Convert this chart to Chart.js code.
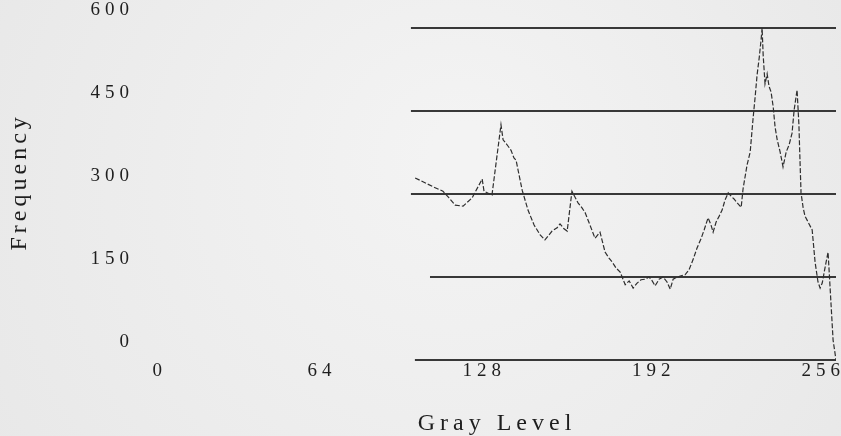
<!DOCTYPE html>
<html>
<head>
<meta charset="utf-8">
<script src="https://cdn.jsdelivr.net/npm/chart.js@4.4.0/dist/chart.umd.min.js"></script>
<style>
  html, body { margin: 0; padding: 0; background: #ededed; }
  canvas { display: block; }
</style>
</head>
<body>
<canvas id="hist" width="841" height="436"></canvas>
<script>
// Gray-level histogram: frequency of each gray level (0-255)
const grayLevels = [
  97.1, 103.9, 107.6, 109.9, 112.2, 115.2, 118.6, 122.4, 123.1, 126.1,
  129.5, 130.3, 131.8, 133.3, 134.4, 135.2, 137.5, 139.7, 142.0, 144.3,
  146.1, 148.8, 150.7, 151.8, 153.3, 154.5, 156.3, 158.6, 160.1, 161.3,
  163.1, 165.0, 166.9, 168.8, 170.3, 171.5, 173.0, 174.5, 176.4, 177.9,
  179.4, 180.9, 182.4, 183.9, 185.4, 186.6, 187.7, 189.2, 190.7, 192.2,
  193.4, 194.5, 196.0, 197.5, 199.0, 200.5, 202.0, 203.5, 205.1, 206.2,
  207.7, 208.8, 209.6, 210.7, 211.9, 213.0, 214.1, 215.3, 216.4, 217.5,
  218.7, 220.2, 220.9, 222.4, 223.6, 224.7, 225.5, 226.2, 227.0, 227.7,
  228.1, 228.5, 229.2, 230.0, 230.7, 231.5, 232.3, 233.0, 233.8, 234.9,
  236.0, 237.2, 238.3, 239.4, 240.2, 241.3, 242.0, 242.4, 242.8, 243.6,
  244.3, 245.5, 247.0, 248.1, 249.2, 250.0, 250.8, 251.9, 253.0, 254.9,
  256
];
const frequency = [
  329, 313, 305, 293, 280, 278, 293, 327, 305, 298,
  425, 398, 389, 379, 365, 361, 307, 271, 244, 226,
  217, 233, 239, 246, 237, 233, 305, 284, 275, 266,
  244, 220, 231, 195, 184, 177, 166, 159, 136, 143,
  130, 139, 145, 146, 150, 143, 134, 146, 150, 141,
  128, 146, 150, 152, 154, 163, 181, 202, 220, 235,
  257, 244, 231, 249, 260, 271, 289, 302, 296, 291,
  284, 276, 309, 352, 376, 437, 477, 515, 546, 578,
  600, 551, 499, 517, 495, 484, 457, 421, 398, 376,
  349, 376, 389, 410, 452, 488, 425, 361, 302, 275,
  260, 249, 235, 177, 141, 130, 139, 168, 195, 36,
  0
];

const xTickValues = [0, 64, 128, 192, 256];
const xTickLabels = ['0', '64', '128', '192', '256'];
const yTickValues = [0, 150, 300, 450, 600];
const yTickLabels = ['0', '150', '300', '450', '600'];
const xTitle = 'Gray Level';
const yTitle = 'Frequency';

const SERIF = "'Liberation Serif', 'DejaVu Serif', serif";
const INK = '#1e1e1e';

// Paper background, plus wide letter spacing for all printed text
const paperPlugin = {
  id: 'paper',
  beforeDraw(chart) {
    const { ctx, width, height } = chart;
    ctx.save();
    const g = ctx.createRadialGradient(width * 0.55, height * 0.35, 30, width * 0.5, height * 0.5, width * 0.7);
    g.addColorStop(0, '#f3f3f3');
    g.addColorStop(1, '#e6e6e6');
    ctx.fillStyle = g;
    ctx.fillRect(0, 0, width, height);
    ctx.restore();
    ctx.letterSpacing = '5px';
  },
  afterDraw(chart) {
    chart.ctx.letterSpacing = '0px';
  }
};

// Horizontal rules at each frequency tick; only their right-hand part is printed
const rulesPlugin = {
  id: 'rules',
  beforeDatasetsDraw(chart, args, opts) {
    const { ctx, chartArea, scales: { x, y } } = chart;
    ctx.save();
    ctx.strokeStyle = opts.color;
    ctx.lineWidth = opts.width;
    yTickValues.forEach((v, i) => {
      const py = Math.round(y.getPixelForValue(v));
      ctx.beginPath();
      ctx.moveTo(x.getPixelForValue(opts.from[i]), py);
      ctx.lineTo(chartArea.right, py);
      ctx.stroke();
    });
    ctx.restore();
  }
};

// Vertical axis title, set a little above the middle of the frequency axis
const yTitlePlugin = {
  id: 'yTitle',
  afterDraw(chart, args, opts) {
    const { ctx, scales: { y } } = chart;
    ctx.save();
    ctx.letterSpacing = '4px';
    ctx.font = `24px ${SERIF}`;
    ctx.fillStyle = INK;
    ctx.textAlign = 'center';
    ctx.textBaseline = 'middle';
    ctx.translate(opts.x, y.getPixelForValue(opts.at));
    ctx.rotate(-Math.PI / 2);
    ctx.fillText(yTitle, 0, 0);
    ctx.restore();
  }
};

new Chart(document.getElementById('hist'), {
  type: 'line',
  data: {
    datasets: [{
      data: grayLevels.map((g, i) => ({ x: g, y: frequency[i] })),
      borderColor: '#2e2e2e',
      borderWidth: 1.2,
      borderDash: [5, 2],
      pointRadius: 0,
      tension: 0,
      fill: false
    }]
  },
  options: {
    responsive: false,
    devicePixelRatio: 1,
    animation: false,
    layout: { padding: { top: 28, right: 5, bottom: 0, left: 0 } },
    plugins: {
      legend: { display: false },
      tooltip: { enabled: false },
      rules: { color: '#383838', width: 2, from: [97, 102.7, 95.5, 95.5, 95.5] },
      yTitle: { x: 20, at: 322 }
    },
    scales: {
      x: {
        type: 'linear',
        min: 0,
        max: 256,
        afterBuildTicks: s => { s.ticks = xTickValues.map(v => ({ value: v })); },
        afterFit: s => { s.height = 76; s.paddingLeft = 0; s.paddingRight = 0; },
        grid: { display: false, drawTicks: false },
        border: { display: false },
        ticks: {
          autoSkip: false,
          maxRotation: 0,
          align: 'end',
          labelOffset: 9,
          padding: 0,
          color: INK,
          font: { family: SERIF, size: 19 },
          callback: (v, i) => xTickLabels[i]
        },
        title: {
          display: true,
          text: xTitle,
          color: INK,
          font: { family: SERIF, size: 24, lineHeight: 1 },
          padding: { top: 0, bottom: 0 }
        }
      },
      y: {
        min: 0,
        max: 600,
        afterBuildTicks: s => { s.ticks = yTickValues.map(v => ({ value: v })); },
        afterFit: s => { s.width = 158; s.paddingTop = 0; s.paddingBottom = 0; },
        grid: { display: false, drawTicks: false },
        border: { display: false },
        ticks: {
          padding: 24,
          labelOffset: -18,
          color: INK,
          font: { family: SERIF, size: 19 },
          callback: (v, i) => yTickLabels[i]
        },
        title: { display: false }
      }
    }
  },
  plugins: [paperPlugin, rulesPlugin, yTitlePlugin]
});
</script>
</body>
</html>
